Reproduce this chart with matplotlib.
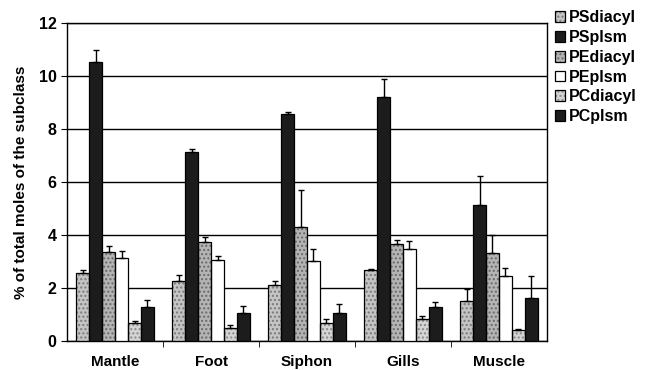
import matplotlib
matplotlib.use("Agg")
import matplotlib.pyplot as plt
from matplotlib.patches import Patch
import numpy as np

plt.rcParams['font.family'] = ['Liberation Sans', 'DejaVu Sans']

tissues = ["Mantle", "Foot", "Siphon", "Gills", "Muscle"]
series = ["PSdiacyl", "PSplsm", "PEdiacyl", "PEplsm", "PCdiacyl", "PCplsm"]
PSdiacyl = [2.57, 2.28, 2.1, 2.67, 1.52]
PSplsm = [10.52, 7.12, 8.55, 9.2, 5.12]
PEdiacyl = [3.35, 3.73, 4.3, 3.65, 3.32]
PEplsm = [3.14, 3.05, 3.02, 3.48, 2.47]
PCdiacyl = [0.67, 0.5, 0.67, 0.82, 0.42]
PCplsm = [1.3, 1.06, 1.06, 1.29, 1.62]
PSdiacyl_err = [0.12, 0.22, 0.15, 0.05, 0.45]
PSplsm_err = [0.45, 0.12, 0.1, 0.7, 1.1]
PEdiacyl_err = [0.23, 0.19, 1.4, 0.18, 0.67]
PEplsm_err = [0.26, 0.17, 0.47, 0.3, 0.3]
PCdiacyl_err = [0.1, 0.1, 0.17, 0.12, 0.05]
PCplsm_err = [0.26, 0.26, 0.34, 0.17, 0.85]

values = [PSdiacyl, PSplsm, PEdiacyl, PEplsm, PCdiacyl, PCplsm]
errors = [PSdiacyl_err, PSplsm_err, PEdiacyl_err, PEplsm_err, PCdiacyl_err, PCplsm_err]
colors = ["#c4c4c4", "#1c1c1c", "#b4b4b4", "#ffffff", "#d4d4d4", "#1c1c1c"]
hatchcols = ["#7a7a7a", None, "#6a6a6a", None, "#8a8a8a", None]
hatches = ["....", None, "....", None, "....", None]

fig = plt.figure(figsize=(6.45, 3.7), dpi=100)
ax = fig.add_axes([0.104, 0.078, 0.744, 0.86])

x = np.arange(len(tissues))
w = 0.135
handles = []
for i, (name, vals, errs) in enumerate(zip(series, values, errors)):
    pos = x + (i - 2.5) * w
    if hatches[i]:
        ax.bar(pos, vals, width=w, color=colors[i], edgecolor=hatchcols[i],
               linewidth=0, hatch=hatches[i], zorder=3)
        h1 = Patch(facecolor=colors[i], edgecolor=hatchcols[i], hatch=hatches[i], linewidth=0)
        h2 = Patch(facecolor="none", edgecolor="black", linewidth=0.9)
        handles.append((h1, h2))
    else:
        ax.bar(pos, vals, width=w, color=colors[i], linewidth=0, zorder=3)
        handles.append(Patch(facecolor=colors[i], edgecolor="black", linewidth=0.9))
    ax.bar(pos, vals, width=w, fill=False, edgecolor="black", linewidth=0.9, zorder=3.5,
           yerr=[np.zeros(len(errs)), errs], capsize=2.5,
           error_kw=dict(ecolor="black", elinewidth=1, capthick=1, zorder=4))

ax.set_xlim(-0.5, 4.5)
ax.set_ylim(0, 12)
ax.set_yticks(np.arange(0, 13, 2))
ax.yaxis.grid(True, color="black", linewidth=1)
ax.set_axisbelow(True)
ax.set_xticks(x)
ax.set_xticklabels(tissues, fontweight="bold", fontsize=11)
ax.tick_params(axis="x", which="major", length=0, pad=10)
ax.set_xticks(np.arange(0.5, 4.5, 1), minor=True)
ax.tick_params(axis="x", which="minor", length=4, direction="out")
ax.tick_params(axis="y", length=4, direction="out", labelsize=11.5)
for lab in ax.get_yticklabels():
    lab.set_fontweight("bold")
ax.set_ylabel("% of total moles of the subclass", fontweight="bold", fontsize=11, labelpad=8)
for s in ax.spines.values():
    s.set_linewidth(1)

leg = ax.legend(handles, series, loc="upper left", bbox_to_anchor=(1.0, 1.065), frameon=False,
                prop=dict(weight="bold", size=11.5), handlelength=0.65,
                handleheight=0.65, handletextpad=0.25, labelspacing=0.3,
                borderaxespad=0.2, borderpad=0.3)

fig.savefig("out.png", dpi=100)
